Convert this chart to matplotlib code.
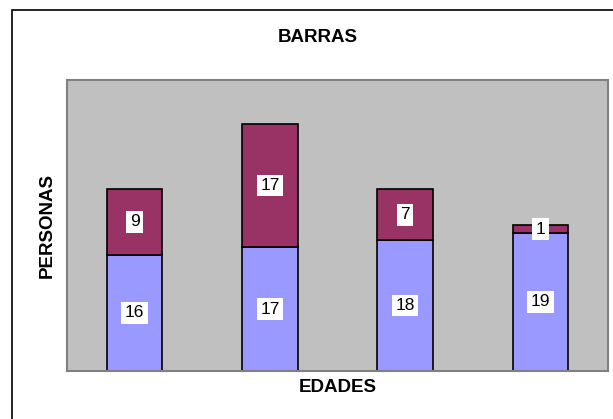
import matplotlib
matplotlib.use("Agg")
import matplotlib.pyplot as plt
import matplotlib.patches as patches
import numpy as np

plt.rcParams['font.family'] = ['Liberation Sans', 'DejaVu Sans']

# data
edades = ['A', 'B', 'C', 'D']
serie1 = [16, 17, 18, 19]   # blue, bottom
serie2 = [9, 17, 7, 1]      # maroon, top

fig = plt.figure(figsize=(6.13, 4.19), dpi=100)
W, H = 613, 419
ax = fig.add_axes([67 / W, (H - 371) / H, 541 / W, 291 / H])

x = np.arange(len(edades))
ax.bar(x, serie1, width=0.41, color='#9999FF', edgecolor='black', linewidth=1.2)
ax.bar(x, serie2, width=0.41, bottom=serie1, color='#993366', edgecolor='black', linewidth=1.2)

for i in range(len(x)):
    ax.text(x[i], serie1[i] / 2, str(serie1[i]), ha='center', va='center', fontsize=12.5,
            bbox=dict(facecolor='white', edgecolor='none', pad=2.5))
    ax.text(x[i], serie1[i] + serie2[i] / 2, str(serie2[i]), ha='center', va='center', fontsize=12.5,
            bbox=dict(facecolor='white', edgecolor='none', pad=2.5))

ax.set_xlim(-0.5, len(x) - 0.5)
ax.set_ylim(0, 40)
ax.set_facecolor('#C0C0C0')
ax.set_xticks([])
ax.set_yticks([])
for s in ax.spines.values():
    s.set_color('#808080')
    s.set_linewidth(1.5)

# outer chart border
fig.patches.append(patches.Rectangle((12 / W, -0.05), 1.1, (H - 10) / H + 0.05,
                                     transform=fig.transFigure, fill=False,
                                     edgecolor='black', linewidth=1.2))

fig.text(318 / W, 1 - 38 / H, 'BARRAS', ha='center', va='center', fontsize=13.5, fontweight='bold')
fig.text(338 / W, 1 - 387 / H, 'EDADES', ha='center', va='center', fontsize=13.5, fontweight='bold')
fig.text(47 / W, 1 - 225 / H, 'PERSONAS', ha='center', va='center', fontsize=13.5,
         fontweight='bold', rotation=90)

fig.savefig('out.png', dpi=100)
